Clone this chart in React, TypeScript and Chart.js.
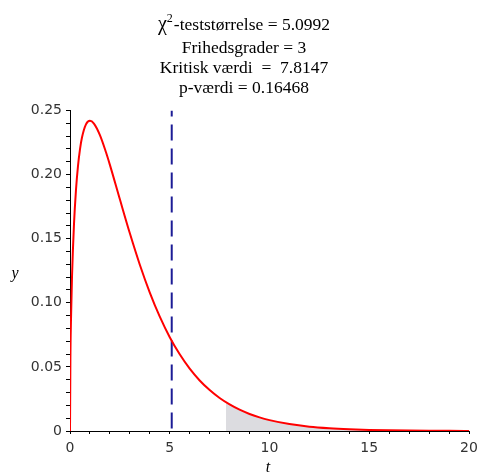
import React, { useEffect, useRef } from 'react';
import { Chart, registerables } from 'chart.js';

Chart.register(...registerables);

// chi-square density curve
const tValues = [0, 0.02, 0.05, 0.1, 0.2, 0.3, 0.4, 0.5, 0.6, 0.8, 1, 1.2, 1.5, 1.8, 2, 2.5, 3, 3.5, 4, 4.5, 5, 5.5, 6, 6.5, 7, 7.5, 8, 8.5, 9, 9.5, 10, 11, 12, 13, 14, 15, 16, 17, 18, 19, 20];
const yValues = [0, 0.0559, 0.087, 0.12, 0.1614, 0.1881, 0.2066, 0.2197, 0.2289, 0.2392, 0.242, 0.2398, 0.2308, 0.2176, 0.2076, 0.1807, 0.1542, 0.1297, 0.108, 0.0892, 0.0732, 0.0598, 0.0486, 0.0394, 0.0319, 0.0257, 0.0207, 0.0166, 0.0133, 0.0106, 0.0085, 0.0054, 0.0034, 0.0022, 0.0014, 0.00085, 0.00053, 0.00033, 0.00021, 0.00013, 0.00008];

// shaded rejection region
const shadeT = [7.8147, 8, 8.5, 9, 9.5, 10, 11, 12, 13, 14, 15, 16, 17, 18, 19, 20];
const shadeY = [0.0224, 0.0207, 0.0166, 0.0133, 0.0106, 0.0085, 0.0054, 0.0034, 0.0022, 0.0014, 0.00085, 0.00053, 0.00033, 0.00021, 0.00013, 0.00008];

const testStatistic = 5.0992;
const markerY = [0.25, 0];

const titleSuperscriptBase = 'χ';
const titleSuperscript = '2';
const titleFirstRest = '-teststørrelse = 5.0992';
const titleLines = ['Frihedsgrader = 3', 'Kritisk værdi  =  7.8147', 'p-værdi = 0.16468'];

const xMajorTicks = [0, 5, 10, 15, 20];
const yMajorTicks = [0, 0.05, 0.1, 0.15, 0.2, 0.25];
const xAxisLabel = 't';
const yAxisLabel = 'y';

const SERIF = '"Liberation Serif", "Times New Roman", serif';

const textPlugin = {
  id: 'texts',
  afterDraw(chart: any) {
    const ctx = chart.ctx;
    ctx.save();
    ctx.fillStyle = '#000';
    ctx.textBaseline = 'alphabetic';
    const cx = 244;
    ctx.font = `20px ${SERIF}`;
    const wChi = ctx.measureText(titleSuperscriptBase).width;
    ctx.font = `12px ${SERIF}`;
    const wSup = ctx.measureText(titleSuperscript).width + 1;
    ctx.font = `17.5px ${SERIF}`;
    const wRest = ctx.measureText(titleFirstRest).width;
    const total = wChi + wSup + wRest;
    let x = cx - total / 2;
    ctx.textAlign = 'left';
    ctx.font = `20px ${SERIF}`;
    ctx.fillText(titleSuperscriptBase, x, 30);
    x += wChi;
    ctx.font = `12px ${SERIF}`;
    ctx.fillText(titleSuperscript, x, 21.5);
    x += wSup;
    ctx.font = `17.5px ${SERIF}`;
    ctx.fillText(titleFirstRest, x, 29.5);
    ctx.textAlign = 'center';
    titleLines.forEach((line, i) => {
      ctx.fillText(line, cx, 52.5 + i * 20);
    });
    ctx.font = `italic 16px ${SERIF}`;
    ctx.fillText(yAxisLabel, 15, 278);
    ctx.fillText(xAxisLabel, 268, 472);
    ctx.restore();
  },
};

export default function App() {
  const ref = useRef<HTMLCanvasElement | null>(null);
  useEffect(() => {
    if (!ref.current) return;
    const curve = tValues.map((t, i) => ({ x: t, y: yValues[i] }));
    const shade = shadeT.map((t, i) => ({ x: t, y: shadeY[i] }));
    const marker = markerY.map((y) => ({ x: testStatistic, y }));
    const near = (v: number, arr: number[]) => arr.some((a) => Math.abs(a - v) < 1e-6);
    const chart = new Chart(ref.current, {
      type: 'line',
      data: {
        datasets: [
          {
            data: curve,
            borderColor: '#ff0000',
            borderWidth: 2,
            pointRadius: 0,
            cubicInterpolationMode: 'monotone',
            fill: false,
            order: 1,
          },
          {
            data: marker,
            borderColor: '#1c1c96',
            borderWidth: 2,
            borderDash: [16, 8],
            borderDashOffset: 10,
            pointRadius: 0,
            fill: false,
            order: 2,
          },
          {
            data: shade,
            borderWidth: 0,
            borderColor: 'rgba(0,0,0,0)',
            backgroundColor: '#dcdce0',
            pointRadius: 0,
            cubicInterpolationMode: 'monotone',
            fill: 'origin',
            order: 3,
          },
        ],
      },
      options: {
        animation: false,
        responsive: false,
        layout: { padding: { top: 110.5, right: 9, left: 0, bottom: 0 } },
        plugins: { legend: { display: false }, tooltip: { enabled: false }, title: { display: false } },
        scales: {
          x: {
            type: 'linear',
            min: 0,
            max: 20,
            grid: { drawOnChartArea: false, drawTicks: true, tickLength: 3, color: '#000' },
            border: { display: true, color: '#000', width: 1 },
            ticks: {
              stepSize: 1,
              autoSkip: false,
              maxRotation: 0,
              padding: 6,
              color: '#333',
              font: { family: '"DejaVu Sans"', size: 14 },
              callback: (v: any) => (near(Number(v), xMajorTicks) ? String(Math.round(Number(v))) : ''),
            },
            afterFit: (s: any) => {
              s.height = 43;
              s.paddingLeft = 0;
              s.paddingRight = 0;
            },
          },
          y: {
            type: 'linear',
            min: 0,
            max: 0.25,
            grid: { drawOnChartArea: false, drawTicks: true, tickLength: 4, color: '#000' },
            border: { display: true, color: '#000', width: 1 },
            ticks: {
              stepSize: 0.01,
              autoSkip: false,
              padding: 4,
              color: '#333',
              font: { family: '"DejaVu Sans"', size: 14 },
              callback: (v: any) => {
                const n = Number(v);
                if (!near(n, yMajorTicks)) return '';
                return Math.abs(n) < 1e-9 ? '0' : n.toFixed(2);
              },
            },
            afterFit: (s: any) => {
              s.width = 70;
              s.paddingTop = 0;
              s.paddingBottom = 0;
            },
          },
        },
      },
      plugins: [textPlugin],
    } as any);
    return () => chart.destroy();
  }, []);
  return (
    <div style={{ position: 'absolute', left: 0, top: 0, width: 478, height: 474, background: '#fff' }}>
      <canvas ref={ref} width={478} height={474} style={{ width: 478, height: 474, display: 'block' }} />
    </div>
  );
}
